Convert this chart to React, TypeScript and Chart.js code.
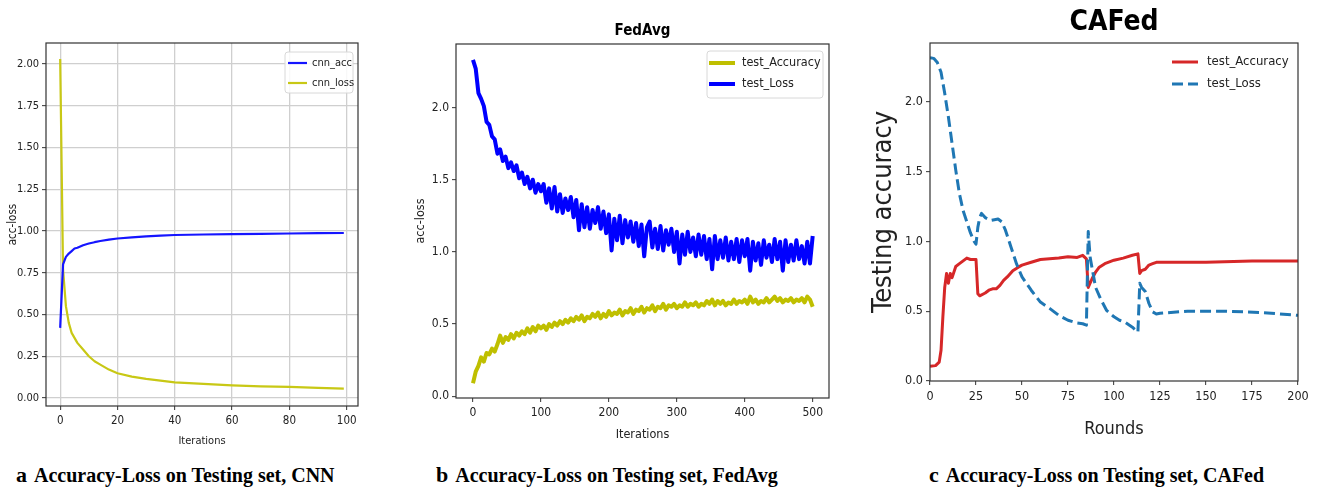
import React, { useEffect, useRef } from "react";
import { Chart, registerables } from "chart.js";

Chart.register(...registerables);

// ---------- Panel a: CNN ----------
const cnnIter = [0, 1, 2, 3, 4, 5, 6, 8, 10, 12, 14, 17, 20, 25, 30, 35, 40, 50, 60, 70, 80, 90, 99];
const cnnAcc = [0.42, 0.8, 0.845, 0.865, 0.88, 0.895, 0.9, 0.915, 0.925, 0.933, 0.94, 0.948, 0.955, 0.962, 0.968, 0.972, 0.976, 0.979, 0.981, 0.983, 0.985, 0.987, 0.988];
const cnnLoss = [2.03, 0.77, 0.55, 0.45, 0.39, 0.36, 0.33, 0.29, 0.25, 0.22, 0.2, 0.17, 0.148, 0.128, 0.114, 0.104, 0.094, 0.084, 0.076, 0.07, 0.066, 0.06, 0.056];

// ---------- Panel b: FedAvg (every 4th iteration) ----------
const fedIter = [
  0, 4, 8, 12, 16, 20, 24, 28, 32, 36, 40, 44, 48, 52, 56, 60, 64, 68, 72, 76, 80, 84, 88, 92, 96,
  100, 104, 108, 112, 116, 120, 124, 128, 132, 136, 140, 144, 148, 152, 156, 160, 164, 168, 172, 176, 180, 184, 188, 192, 196,
  200, 204, 208, 212, 216, 220, 224, 228, 232, 236, 240, 244, 248, 252, 256, 260, 264, 268, 272, 276, 280, 284, 288, 292, 296,
  300, 304, 308, 312, 316, 320, 324, 328, 332, 336, 340, 344, 348, 352, 356, 360, 364, 368, 372, 376, 380, 384, 388, 392, 396,
  400, 404, 408, 412, 416, 420, 424, 428, 432, 436, 440, 444, 448, 452, 456, 460, 464, 468, 472, 476, 480, 484, 488, 492, 496, 500,
];
const fedLoss = [
  2.33, 2.27, 2.1, 2.06, 2.01, 1.9, 1.88, 1.8, 1.78, 1.68, 1.71, 1.63, 1.66, 1.58, 1.62, 1.56, 1.6, 1.51, 1.55, 1.47, 1.52, 1.44, 1.5, 1.41, 1.47,
  1.42, 1.47, 1.34, 1.44, 1.3, 1.45, 1.28, 1.4, 1.27, 1.37, 1.29, 1.38, 1.24, 1.36, 1.15, 1.33, 1.17, 1.31, 1.16, 1.29, 1.2, 1.31, 1.16, 1.28, 1.13,
  1.26, 1.01, 1.23, 1.08, 1.25, 1.06, 1.22, 1.1, 1.21, 1.07, 1.2, 1.04, 1.19, 0.97, 1.17, 1.21, 1.03, 1.16, 1.02, 1.18, 1.01, 1.15, 1.05, 1.16, 1.0,
  1.14, 0.92, 1.12, 0.98, 1.14, 1.0, 1.1, 0.97, 1.12, 0.98, 1.11, 0.95, 1.09, 0.88, 1.11, 0.95, 1.08, 0.96, 1.1, 0.94, 1.07, 0.95, 1.09, 0.93, 1.08,
  0.97, 1.09, 0.87, 1.07, 0.94, 1.06, 0.91, 1.08, 0.96, 1.05, 0.93, 1.09, 0.95, 1.07, 0.87, 1.08, 0.93, 1.05, 0.94, 1.08, 0.95, 1.04, 0.92, 1.07, 0.92, 1.11,
];
const fedAcc = [
  0.09, 0.17, 0.21, 0.27, 0.24, 0.3, 0.29, 0.33, 0.31, 0.36, 0.42, 0.37, 0.41, 0.39, 0.43, 0.4, 0.44, 0.42, 0.45, 0.43, 0.47, 0.44, 0.48, 0.45, 0.49,
  0.47, 0.49, 0.46, 0.5, 0.48, 0.51, 0.49, 0.52, 0.5, 0.53, 0.51, 0.54, 0.52, 0.55, 0.53, 0.56, 0.52, 0.55, 0.54, 0.57, 0.55, 0.58, 0.54, 0.57, 0.55,
  0.59, 0.56, 0.58, 0.57, 0.6, 0.56, 0.59, 0.58, 0.61, 0.57, 0.6, 0.59, 0.62, 0.58, 0.61, 0.6, 0.63, 0.59, 0.62, 0.61, 0.64, 0.6, 0.63, 0.62, 0.64,
  0.61, 0.63, 0.62, 0.65, 0.62, 0.64, 0.63, 0.65, 0.62, 0.64, 0.63, 0.66, 0.64, 0.67, 0.63, 0.66, 0.64, 0.66, 0.63, 0.65, 0.64, 0.67, 0.64, 0.66, 0.65,
  0.67, 0.64, 0.69, 0.65, 0.67, 0.64, 0.66, 0.65, 0.68, 0.65, 0.67, 0.69, 0.66, 0.68, 0.65, 0.67, 0.66, 0.68, 0.65, 0.67, 0.66, 0.68, 0.65, 0.69, 0.67, 0.62,
];

// ---------- Panel c: CAFed ----------
const cafAccRounds = [0, 3, 5, 6, 7, 8, 9, 10, 11, 12, 14, 16, 18, 20, 22, 24, 25, 26, 27, 30, 32, 34, 36, 38, 40, 42, 45, 48, 50, 55, 60, 65, 70, 75, 80, 83, 85, 86, 87, 88, 90, 92, 95, 100, 105, 110, 113, 114, 115, 117, 119, 121, 123, 125, 150, 175, 200];
const cafAcc = [0.105, 0.11, 0.135, 0.22, 0.46, 0.67, 0.77, 0.7, 0.77, 0.74, 0.82, 0.84, 0.86, 0.88, 0.87, 0.87, 0.87, 0.625, 0.61, 0.63, 0.65, 0.66, 0.66, 0.685, 0.72, 0.745, 0.79, 0.815, 0.83, 0.85, 0.87, 0.875, 0.88, 0.89, 0.885, 0.9, 0.875, 0.67, 0.7, 0.73, 0.78, 0.815, 0.84, 0.865, 0.88, 0.9, 0.91, 0.77, 0.79, 0.8, 0.83, 0.84, 0.85, 0.85, 0.85, 0.86, 0.86];
const cafLossRounds = [0, 2, 4, 6, 8, 10, 12, 14, 16, 18, 20, 22, 24, 25, 26, 27, 28, 30, 33, 35, 37, 39, 41, 44, 47, 50, 55, 60, 65, 70, 75, 80, 83, 85, 86, 87, 88, 90, 93, 96, 100, 103, 106, 110, 113, 114, 115, 117, 119, 121, 123, 125, 140, 160, 180, 200];
const cafLoss = [2.315, 2.31, 2.28, 2.21, 2.06, 1.89, 1.7, 1.51, 1.34, 1.22, 1.14, 1.06, 1.0, 0.98, 1.1, 1.17, 1.2, 1.17, 1.15, 1.155, 1.16, 1.14, 1.08, 0.96, 0.84, 0.745, 0.65, 0.565, 0.52, 0.47, 0.435, 0.415, 0.41, 0.4, 1.07, 0.89, 0.815, 0.67, 0.58, 0.505, 0.46, 0.435, 0.42, 0.385, 0.35, 0.7, 0.67, 0.64, 0.555, 0.495, 0.48, 0.485, 0.5, 0.5, 0.49, 0.47];

// ---------- Text ----------
const captions = [
  { letter: "a", text: "Accuracy-Loss on Testing set, CNN" },
  { letter: "b", text: "Accuracy-Loss on Testing set, FedAvg" },
  { letter: "c", text: "Accuracy-Loss on Testing set, CAFed" },
];

const SANS = '"DejaVu Sans Condensed", "DejaVu Sans", sans-serif';

const pts = (xs: number[], ys: number[]) => xs.map((x, i) => ({ x, y: ys[i] }));

type LegendItem = { label: string; color: string; width: number; dash?: number[] };
type Deco = {
  title?: { text: string; size: number; y: number };
  legend: {
    items: LegendItem[];
    x: number;
    y: number;
    rowGap: number;
    lineLen: number;
    textGap: number;
    fontSize: number;
    box?: { x: number; y: number; w: number; h: number };
  };
  frameColor: string;
};

function decoPlugin(d: Deco) {
  return {
    id: "deco",
    afterDraw(chart: any) {
      const { ctx, chartArea: a } = chart;
      ctx.save();
      ctx.setLineDash([]);
      ctx.strokeStyle = d.frameColor;
      ctx.lineWidth = 1.2;
      ctx.strokeRect(a.left, a.top, a.right - a.left, a.bottom - a.top);
      if (d.title) {
        ctx.fillStyle = "#000";
        ctx.font = `bold ${d.title.size}px ${SANS}`;
        ctx.textAlign = "center";
        ctx.textBaseline = "middle";
        ctx.fillText(d.title.text, (a.left + a.right) / 2, d.title.y);
      }
      const L = d.legend;
      if (L.box) {
        const b = L.box;
        ctx.fillStyle = "rgba(255,255,255,0.85)";
        ctx.strokeStyle = "#d8d8d8";
        ctx.lineWidth = 1;
        ctx.beginPath();
        (ctx as any).roundRect(b.x, b.y, b.w, b.h, 3);
        ctx.fill();
        ctx.stroke();
      }
      L.items.forEach((it, i) => {
        const y = L.y + i * L.rowGap;
        ctx.strokeStyle = it.color;
        ctx.lineWidth = it.width;
        ctx.setLineDash(it.dash || []);
        ctx.beginPath();
        ctx.moveTo(L.x, y);
        ctx.lineTo(L.x + L.lineLen, y);
        ctx.stroke();
        ctx.setLineDash([]);
        ctx.fillStyle = "#222";
        ctx.font = `${L.fontSize}px ${SANS}`;
        ctx.textAlign = "left";
        ctx.textBaseline = "middle";
        ctx.fillText(it.label, L.x + L.lineLen + L.textGap, y);
      });
      ctx.restore();
    },
  };
}

type PanelProps = {
  left: number;
  width: number;
  height: number;
  config: any;
};

function Panel({ left, width, height, config }: PanelProps) {
  const ref = useRef<HTMLCanvasElement | null>(null);
  useEffect(() => {
    if (!ref.current) return;
    const chart = new Chart(ref.current, config);
    return () => chart.destroy();
  }, []);
  return (
    <canvas
      ref={ref}
      width={width}
      height={height}
      style={{ position: "absolute", left, top: 0, width: width + "px", height: height + "px" }}
    />
  );
}

function axis(opts: {
  min: number;
  max: number;
  step: number;
  digits: number;
  size: number;
  fontSize: number;
  title: string;
  titleSize: number;
  titlePad: any;
  grid?: boolean;
  tickPad: number;
  horizontal: boolean;
}) {
  return {
    type: "linear",
    min: opts.min,
    max: opts.max,
    border: { display: false },
    grid: {
      display: true,
      drawOnChartArea: !!opts.grid,
      drawTicks: true,
      tickLength: 4,
      color: "#cfcfcf",
      lineWidth: 1.3,
      tickColor: "#333",
      tickWidth: 1,
    },
    ticks: {
      stepSize: opts.step,
      includeBounds: false,
      autoSkip: false,
      maxRotation: 0,
      padding: opts.tickPad,
      color: "#222",
      font: { family: SANS, size: opts.fontSize },
      callback: (v: number) => Number(v).toFixed(opts.digits),
    },
    title: {
      display: true,
      text: opts.title,
      color: "#222",
      font: { family: SANS, size: opts.titleSize },
      padding: opts.titlePad,
    },
    afterFit: (s: any) => {
      if (opts.horizontal) s.height = opts.size;
      else s.width = opts.size;
    },
  };
}

function baseOptions(padding: any, x: any, y: any) {
  return {
    responsive: false,
    animation: false,
    events: [],
    layout: { padding },
    plugins: { legend: { display: false }, title: { display: false }, tooltip: { enabled: false } },
    scales: { x, y },
  };
}

const ds = (label: string, data: any, color: string, width: number, extra: any = {}) => ({
  label,
  data,
  borderColor: color,
  backgroundColor: color,
  borderWidth: width,
  pointRadius: 0,
  tension: 0,
  fill: false,
  borderJoinStyle: "round",
  ...extra,
});

const configA = {
  type: "line",
  data: {
    datasets: [
      ds("cnn_acc", pts(cnnIter, cnnAcc), "#1515ff", 2.2),
      ds("cnn_loss", pts(cnnIter, cnnLoss), "#c8c815", 2.2),
    ],
  },
  options: baseOptions(
    { left: 0, top: 43, right: 22, bottom: 0 },
    axis({ min: -4.95, max: 103.95, step: 20, digits: 0, size: 54, fontSize: 11.5, title: "Iterations", titleSize: 11, titlePad: { top: 0, bottom: 12 }, grid: true, tickPad: 4, horizontal: true }),
    axis({ min: -0.048, max: 2.126, step: 0.25, digits: 2, size: 46, fontSize: 11, title: "acc-loss", titleSize: 11.5, titlePad: { top: 6, bottom: 0 }, grid: true, tickPad: 3, horizontal: false })
  ),
  plugins: [
    decoPlugin({
      frameColor: "#333",
      legend: {
        items: [
          { label: "cnn_acc", color: "#1515ff", width: 2.2 },
          { label: "cnn_loss", color: "#c8c815", width: 2.2 },
        ],
        x: 288,
        y: 63,
        rowGap: 20,
        lineLen: 19,
        textGap: 5,
        fontSize: 11,
        box: { x: 285, y: 52, w: 68, h: 41 },
      },
    }),
  ],
};

const configB = {
  type: "line",
  data: {
    datasets: [
      ds("test_Accuracy", pts(fedIter, fedAcc), "#bfbf00", 4),
      ds("test_Loss", pts(fedIter, fedLoss), "#0000ff", 4),
    ],
  },
  options: baseOptions(
    { left: 0, top: 44, right: 11, bottom: 0 },
    axis({ min: -25, max: 524, step: 100, digits: 0, size: 62, fontSize: 12, title: "Iterations", titleSize: 12.5, titlePad: { top: 0, bottom: 18 }, tickPad: 4, horizontal: true }),
    axis({ min: -0.012, max: 2.44, step: 0.5, digits: 1, size: 56, fontSize: 12, title: "acc-loss", titleSize: 12.5, titlePad: { top: 13, bottom: 0 }, tickPad: 3, horizontal: false })
  ),
  plugins: [
    decoPlugin({
      frameColor: "#333",
      title: { text: "FedAvg", size: 15, y: 31 },
      legend: {
        items: [
          { label: "test_Accuracy", color: "#bfbf00", width: 4 },
          { label: "test_Loss", color: "#0000ff", width: 4 },
        ],
        x: 309,
        y: 63,
        rowGap: 21,
        lineLen: 26,
        textGap: 7,
        fontSize: 12.5,
        box: { x: 307, y: 51, w: 116, h: 47 },
      },
    }),
  ],
};

const configC = {
  type: "line",
  data: {
    datasets: [
      ds("test_Accuracy", pts(cafAccRounds, cafAcc), "#d62728", 3, { order: 1 }),
      ds("test_Loss", pts(cafLossRounds, cafLoss), "#1f77b4", 3, { order: 0, borderDash: [11, 5] }),
    ],
  },
  options: baseOptions(
    { left: 0, top: 43, right: 20, bottom: 0 },
    axis({ min: 0, max: 200, step: 25, digits: 0, size: 79, fontSize: 12.5, title: "Rounds", titleSize: 18, titlePad: { top: 0, bottom: 20 }, tickPad: 4, horizontal: true }),
    axis({ min: 0, max: 2.42, step: 0.5, digits: 1, size: 70, fontSize: 12.5, title: "Testing accuracy", titleSize: 27, titlePad: { top: 8, bottom: 0 }, tickPad: 3, horizontal: false })
  ),
  plugins: [
    decoPlugin({
      frameColor: "#333",
      title: { text: "CAFed", size: 28, y: 23 },
      legend: {
        items: [
          { label: "test_Accuracy", color: "#d62728", width: 3 },
          { label: "test_Loss", color: "#1f77b4", width: 3, dash: [11, 5] },
        ],
        x: 312,
        y: 62,
        rowGap: 22,
        lineLen: 26,
        textGap: 9,
        fontSize: 13,
      },
    }),
  ],
};

const captionLefts = [16, 436, 929];

export default function App() {
  return (
    <div style={{ position: "fixed", left: 0, top: 0, width: 1318, height: 488, background: "#fff", overflow: "hidden" }}>
      <Panel left={0} width={380} height={460} config={configA} />
      <Panel left={400} width={440} height={460} config={configB} />
      <Panel left={860} width={458} height={460} config={configC} />
      {captions.map((c, i) => (
        <div
          key={c.letter}
          style={{
            position: "absolute",
            left: captionLefts[i],
            top: 462,
            fontFamily: '"Liberation Serif", "Times New Roman", serif',
            fontWeight: "bold",
            fontSize: 20,
            lineHeight: "26px",
            whiteSpace: "nowrap",
            color: "#000",
          }}
        >
          <span style={{ fontSize: 22, marginRight: 7 }}>{c.letter}</span>
          {c.text}
        </div>
      ))}
    </div>
  );
}
